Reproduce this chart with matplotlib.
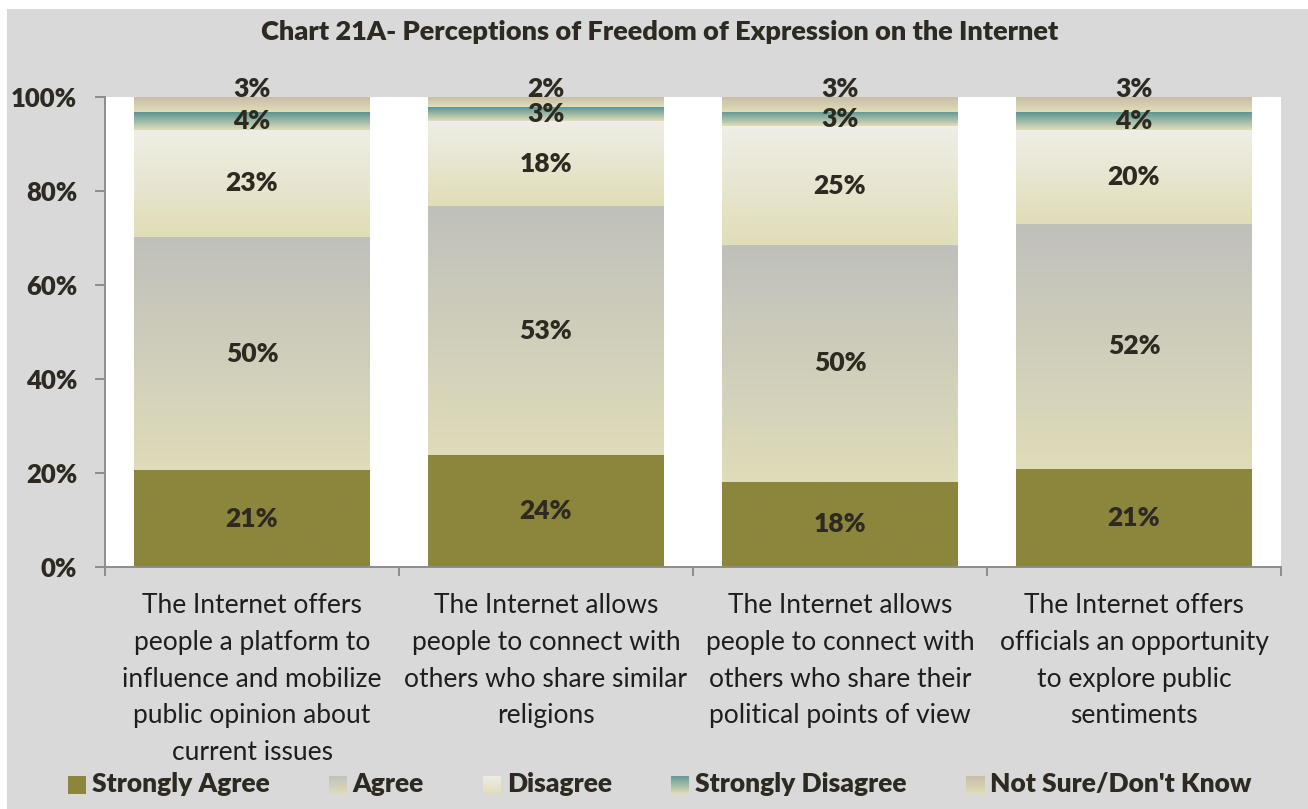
import numpy as np
import matplotlib
matplotlib.use("Agg")
import matplotlib.pyplot as plt
from matplotlib.colors import LinearSegmentedColormap
from matplotlib.patches import Rectangle

# ---------------- data ----------------
categories = [
    "The Internet offers\npeople a platform to\ninfluence and mobilize\npublic opinion about\ncurrent issues",
    "The Internet allows\npeople to connect with\nothers who share similar\nreligions",
    "The Internet allows\npeople to connect with\nothers who share their\npolitical points of view",
    "The Internet offers\nofficials an opportunity\nto explore public\nsentiments",
]
series_names = ["Strongly Agree", "Agree", "Disagree", "Strongly Disagree", "Not Sure/Don't Know"]
strongly_agree = [20.6, 23.8, 18.1, 20.9]
agree = [49.6, 53.0, 50.4, 52.1]
disagree = [22.8, 18.1, 25.3, 20.0]
strongly_disagree = [3.8, 2.9, 3.0, 3.8]
not_sure = [3.2, 2.2, 3.2, 3.2]
yticks = [0, 20, 40, 60, 80, 100]
title = "Chart 21A- Perceptions of Freedom of Expression on the Internet"

# (bottom colour, top colour) gradients
gradients = [
    ("#8c863d", "#8c863d"),
    ("#dfdcb9", "#c0c0bc"),
    ("#e0ddb8", "#efeee7"),
    ("#e0ddb8", "#5a9694"),
    ("#e2ddb9", "#c4bca6"),
]

TXT = "#2e2a22"
FONT = "Lato"
W, H = 1308, 809
fig = plt.figure(figsize=(W / 100, H / 100), dpi=100)
fig.patch.set_facecolor("white")
fig.patches.append(Rectangle((7 / W, 0), 1, 1 - 9 / H, transform=fig.transFigure,
                             facecolor="#d9d9d9", edgecolor="none", zorder=-10))

ax = fig.add_axes([105 / W, 1 - 567 / H, (1281 - 105) / W, (567 - 97) / H])
ax.set_facecolor("white")

x = np.arange(len(categories))
data = [strongly_agree, agree, disagree, strongly_disagree, not_sure]
bottoms = np.zeros(len(categories))
grad = np.linspace(0, 1, 256).reshape(-1, 1)
for i, vals in enumerate(data):
    cmap = LinearSegmentedColormap.from_list(f"g{i}", list(gradients[i]))
    bars = ax.bar(x, vals, bottom=bottoms, width=0.8, color="none", edgecolor="none")
    for j, p in enumerate(bars.patches):
        x0, w, y0, h = p.get_x(), p.get_width(), p.get_y(), p.get_height()
        ax.imshow(grad, cmap=cmap, extent=(x0, x0 + w, y0, y0 + h), origin="lower",
                  aspect="auto", zorder=2, interpolation="bilinear")
        lab = f"{round(vals[j])}%"
        if i == len(data) - 1:
            ax.annotate(lab, (x0 + w / 2, y0 + h), xytext=(0, 5.5), textcoords="offset points",
                        ha="center", va="center", fontsize=19, fontweight="heavy",
                        color=TXT, family=FONT, zorder=5, annotation_clip=False)
        else:
            ax.text(x0 + w / 2, y0 + h / 2, lab, ha="center", va="center", fontsize=19,
                    fontweight="heavy", color=TXT, family=FONT, zorder=5)
    bottoms += np.array(vals)

ax.set_xlim(-0.5, len(categories) - 0.5)
ax.set_ylim(0, 100)
ax.set_yticks(yticks)
ax.set_yticklabels([f"{v}%" for v in yticks], fontsize=18.5, fontweight="heavy", color=TXT, family=FONT)
ax.set_xticks(x)
ax.set_xticklabels(categories, fontsize=19, color="#1e1e1e", family=FONT, linespacing=1.58, va="top")
ax.set_xticks(np.arange(len(categories) + 1) - 0.5, minor=True)
ax.tick_params(axis="x", which="major", length=0, pad=19)
ax.tick_params(axis="x", which="minor", length=6.5, width=1.4, color="#8c8c8c", direction="out")
ax.tick_params(axis="y", length=7, width=1.4, color="#8c8c8c", pad=13)
for s in ["top", "right"]:
    ax.spines[s].set_visible(False)
for s in ["left", "bottom"]:
    ax.spines[s].set_color("#8c8c8c")
    ax.spines[s].set_linewidth(1.4)
    ax.spines[s].set_zorder(6)

fig.text(660 / W, 1 - 32 / H, title, ha="center", va="center", fontsize=19.5,
         fontweight="heavy", color=TXT, family=FONT)

# legend (manual, gradient swatches)
renderer = fig.canvas.get_renderer()
cur = 68
ly = 784
for i, name in enumerate(series_names):
    lax = fig.add_axes([cur / W, 1 - (ly + 10) / H, 18 / W, 18 / H])
    cmap = LinearSegmentedColormap.from_list(f"l{i}", list(gradients[i]))
    lax.imshow(grad, cmap=cmap, origin="lower", aspect="auto", extent=(0, 1, 0, 1))
    lax.axis("off")
    t = fig.text((cur + 24) / W, 1 - ly / H, name, ha="left", va="center", fontsize=19,
                 fontweight="heavy", color=TXT, family=FONT)
    bb = t.get_window_extent(renderer)
    cur = cur + 24 + bb.width + 59

fig.savefig("out.png", dpi=100, facecolor=fig.get_facecolor())
